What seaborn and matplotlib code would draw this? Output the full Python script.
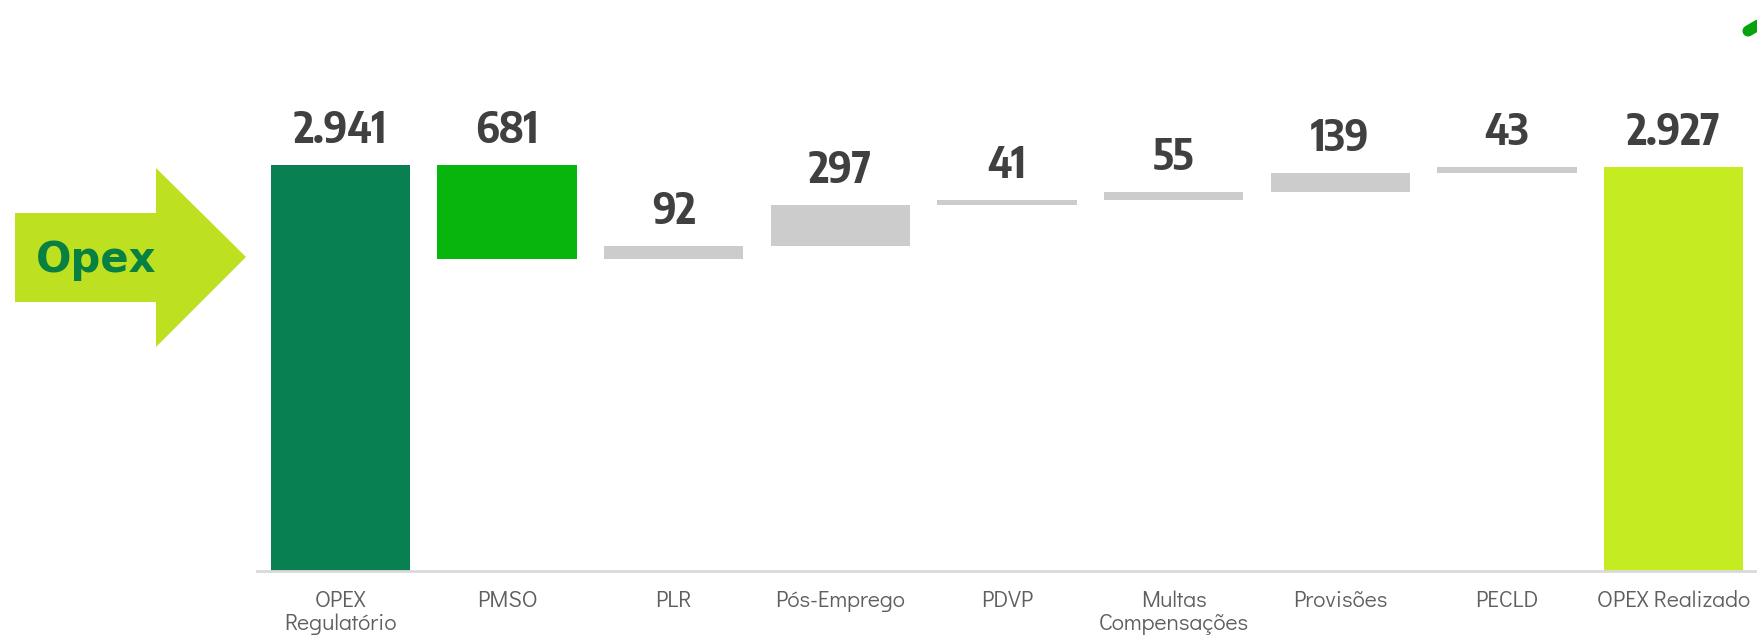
import numpy as np
import matplotlib
matplotlib.use("Agg")
import matplotlib.pyplot as plt
from matplotlib.patches import Polygon
from matplotlib.lines import Line2D
import seaborn as sns

# data
categories = ["OPEX\nRegulatório", "PMSO", "PLR", "Pós-Emprego", "PDVP",
              "Multas\nCompensações", "Provisões", "PECLD", "OPEX Realizado"]
deltas = [2941, -681, 92, 297, 41, 55, 139, 43]
value_labels = ["2.941", "681", "92", "297", "41", "55", "139", "43", "2.927"]
bar_colors = ["#088051", "#07b50c", "#cccccc", "#cccccc", "#cccccc",
              "#cccccc", "#cccccc", "#cccccc", "#c5ec21"]

VAL_FONT = ["Encode Sans Condensed", "Roboto", "DejaVu Sans"]
TICK_FONT = ["Didact Gothic", "Roboto", "DejaVu Sans"]
OPEX_FONT = ["DejaVu Sans"]

# waterfall geometry
cum = np.cumsum(deltas)
total = cum[-1]
starts = np.concatenate([[0], cum[:-1]])
bottoms = list(np.minimum(starts, cum)) + [0]
heights = list(np.abs(deltas)) + [total]
tops = [b + h for b, h in zip(bottoms, heights)]

sns.set_theme(style="white")
fig = plt.figure(figsize=(17.57, 6.37), dpi=100)
ax = fig.add_axes([257 / 1757, 66 / 637, 1 - 257 / 1757, 1 - 66 / 637])

sns.barplot(x=categories, y=heights, hue=categories, palette=bar_colors,
            legend=False, width=0.835, linewidth=0, saturation=1, ax=ax)
for p, b in zip(ax.patches, bottoms):
    p.set_y(b)

for i, (t, lab) in enumerate(zip(tops, value_labels)):
    ax.annotate(lab, (i, t), xytext=(0, 22), textcoords="offset pixels",
                ha="center", va="baseline", fontsize=31, fontweight="bold",
                color="#404040", family=VAL_FONT)

ax.set_xlim(-0.5, 8.5)
ax.set_ylim(0, 4137)
ax.set_yticks([])
ax.set_xlabel("")
ax.set_ylabel("")
for s in ["left", "top", "right"]:
    ax.spines[s].set_visible(False)
ax.spines["bottom"].set_color("#d9d9d9")
ax.spines["bottom"].set_linewidth(2)
ax.tick_params(axis="x", length=0, pad=14)
for tl in ax.get_xticklabels():
    tl.set_fontsize(16.5)
    tl.set_color("#5f5f5f")
    tl.set_family(TICK_FONT)
    tl.set_linespacing(1.12)

# "Opex" arrow on the left
W, H = 1757, 637
pts = [(15, 213), (156, 213), (156, 168), (246, 257), (156, 347), (156, 302), (15, 302)]
arrow = Polygon([(x / W, 1 - y / H) for x, y in pts], closed=True,
                transform=fig.transFigure, facecolor="#bde021", edgecolor="none")
fig.patches.append(arrow)
fig.text(36 / W, 1 - 260 / H, "Opex", ha="left", va="center", fontsize=30,
         fontweight="bold", color="#088041", family=OPEX_FONT)

# bit of logo at the top right corner
fig.lines.append(Line2D([1748 / W, 1760 / W], [1 - 31 / H, 1 - 24 / H],
                        transform=fig.transFigure, color="#07a30c", linewidth=8,
                        solid_capstyle="round"))

fig.savefig("out.png", dpi=100)
